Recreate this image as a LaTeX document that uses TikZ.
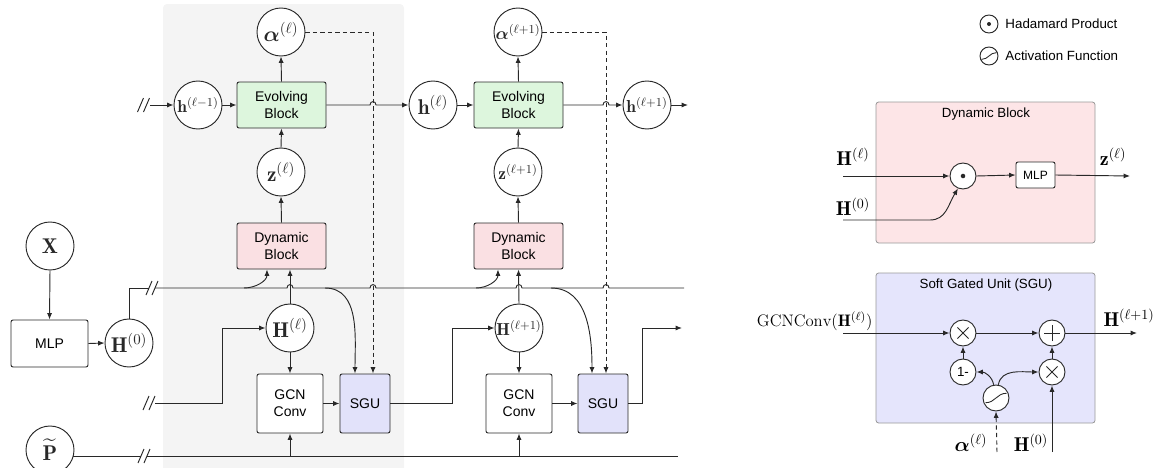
\RequirePackage{fix-cm}
\documentclass[tikz,border=0pt]{standalone}
\usepackage{amsmath,bm}
\usepackage{fontspec}
\newfontfamily\helv{Liberation Sans}
\usetikzlibrary{arrows.meta}

\definecolor{bggray}{RGB}{244,244,244}
\definecolor{evofill}{RGB}{221,246,221}
\definecolor{dynfill}{RGB}{250,224,227}
\definecolor{sgufill}{RGB}{226,226,250}
\definecolor{panelpink}{RGB}{253,229,231}
\definecolor{panelblue}{RGB}{229,229,252}
\definecolor{ink}{RGB}{40,40,40}

\newcommand\mfont{\fontsize{16}{18}\selectfont}
\newcommand\msmall{\fontsize{13}{15}\selectfont}
\newcommand\mlab{\fontsize{15}{17}\selectfont}
\newcommand\mgcn{\fontsize{12.5}{14}\selectfont}
\newcommand\bfont{\helv\fontsize{10.5}{12.75}\selectfont}
\newcommand\lfont{\helv\fontsize{10}{12}\selectfont}
\newcommand\sfont{\helv\fontsize{9}{10}\selectfont}

% two slanted strokes marking a broken line
\newcommand\brk[2]{\draw (#1-6,#2+7) -- (#1,#2-7); \draw (#1,#2+7) -- (#1+6,#2-7);}
% sigmoid glyph centred at (#1,#2), half width #3
\newcommand\sgm[3]{\draw[line width=0.65pt] (#1-#3,#2+0.45*#3) .. controls (#1-0.05*#3,#2+0.45*#3) and (#1+0.05*#3,#2-0.45*#3) .. (#1+#3,#2-0.45*#3);}

\begin{document}
\begin{tikzpicture}[x=0.75pt,y=-0.75pt,line width=0.7pt,color=ink,
  >={Latex[length=4.8pt,width=3.8pt]},
  circ/.style={circle,draw,fill=white,minimum size=36pt,inner sep=0pt,font=\mfont},
  box/.style={rectangle,rounded corners=1.5pt,draw,align=center,font=\bfont,text=black},
  evo/.style={box,fill=evofill,minimum width=66.75pt,minimum height=34.5pt},
  dyn/.style={box,fill=dynfill,minimum width=66.75pt,minimum height=34.5pt},
  gcn/.style={box,fill=white,minimum width=49.5pt,minimum height=44.25pt},
  sgu/.style={box,fill=sgufill,minimum width=37.5pt,minimum height=44.25pt},
  mlpbox/.style={box,fill=white,minimum width=57.75pt,minimum height=35.25pt},
  op/.style={circle,draw,fill=white,minimum size=19.5pt,inner sep=0pt,font=\sfont,text=black},
  lab/.style={inner sep=0pt,font=\mlab,text=black},
  panel/.style={rectangle,rounded corners=2pt,draw=black!40,line width=0.6pt},
  dsh/.style={dashed,dash pattern=on 3.2pt off 2.4pt},
]
\useasboundingbox (0,0) rectangle (1158,468);

% shaded layer
\fill[bggray,rounded corners=3pt] (163,4) rectangle (404,475);

% ---------- layer l ----------
\node[circ] (alphaL) at (281,32) {$\bm{\alpha}^{(\ell)}$};
\node[evo] (evoL) at (281.5,105) {Evolving\\Block};
\node[circ] (hLm1) at (198,105) {\msmall$\mathbf{h}^{(\ell-1)}$};
\node[circ] (zL) at (281,172) {$\mathbf{z}^{(\ell)}$};
\node[dyn] (dynL) at (281.5,246) {Dynamic\\Block};
\node[circ] (HL) at (290,328) {$\mathbf{H}^{(\ell)}$};
\node[gcn] (gcnL) at (290,403.5) {GCN\\Conv};
\node[sgu] (sguL) at (365,403.5) {SGU};

% ---------- layer l+1 ----------
\node[circ] (hL) at (433,105) {$\mathbf{h}^{(\ell)}$};
\node[circ] (alphaR) at (518,32) {\msmall$\bm{\alpha}^{(\ell+1)}$};
\node[evo] (evoR) at (518.5,105) {Evolving\\Block};
\node[circ] (zR) at (518,172) {\msmall$\mathbf{z}^{(\ell+1)}$};
\node[circ] (hLp1) at (647,105) {\msmall$\mathbf{h}^{(\ell+1)}$};
\node[dyn] (dynR) at (518.5,246) {Dynamic\\Block};
\node[circ] (HLp1) at (519,328) {\msmall$\mathbf{H}^{(\ell+1)}$};
\node[gcn] (gcnR) at (519,403.5) {GCN\\Conv};
\node[sgu] (sguR) at (603,403.5) {SGU};

% ---------- inputs ----------
\node[circ] (X) at (50,246) {$\mathbf{X}$};
\node[mlpbox] (mlp) at (49.5,343.5) {MLP};
\node[circ] (H0) at (129,343) {$\mathbf{H}^{(0)}$};
\node[circ] (P) at (50,450) {$\widetilde{\mathbf{P}}$};
\coordinate (hout) at (688,105);
\coordinate (Hout) at (682,328);

% evolving chain
\brk{143.5}{105}
\draw[->] (150,105) -- (hLm1.west);
\draw[->] (hLm1.east) -- (evoL.west);
\draw[->] (evoL.north) -- (alphaL.south);
\draw[->] (zL.north) -- (evoL.south);
\draw[->] (dynL.north) -- (zL.south);
\draw[->] (evoL.east) -- (370,105) .. controls (370,100.5) and (376,100.5) .. (376,105) -- (hL.west);
\draw[->] (hL.east) -- (evoR.west);
\draw[->] (evoR.north) -- (alphaR.south);
\draw[->] (zR.north) -- (evoR.south);
\draw[->] (dynR.north) -- (zR.south);
\draw[->] (evoR.east) -- (603,105) .. controls (603,100.5) and (609,100.5) .. (609,105) -- (hLp1.west);
\draw[->] (hLp1.east) -- (hout);

% gate signals
\draw[dsh,->] (alphaL.east) -- (373,32) -- ([xshift=6pt]sguL.north);
\draw[dsh,->] (alphaR.east) -- (606,32) -- ([xshift=2.25pt]sguR.north);

% initial features
\draw[->] (X.south) -- (mlp.north);
\draw[->] (mlp.east) -- (H0.west);
\draw (H0.north) -- (129,288) -- (149,288);
\brk{152}{288}
\draw (155,288) -- (287,288) .. controls (287,283.5) and (293,283.5) .. (293,288)
  -- (370,288) .. controls (370,283.5) and (376,283.5) .. (376,288)
  -- (516,288) .. controls (516,283.5) and (522,283.5) .. (522,288)
  -- (603,288) .. controls (603,283.5) and (609,283.5) .. (609,288) -- (684,288);
\draw[->] (244,288) to[out=0,in=-90] ([xshift=-10.9pt]dynL.south);
\draw[->] (325,288) to[out=0,in=90] ([xshift=-7.5pt]sguL.north);
\draw[->] (476,288) to[out=0,in=-90] ([xshift=-15.4pt]dynR.south);
\draw[->] (551,288) to[out=0,in=90] ([xshift=-8.25pt]sguR.north);

% layer l graph convolution
\brk{149}{403}
\draw[->] (155,403) -- (222,403) -- (222,328) -- (HL.west);
\draw[->] (HL.north) -- (dynL.south -| HL.north);
\draw[->] (HL.south) -- (gcnL.north);
\draw[->] (gcnL.east) -- (sguL.west);
\draw[->] (sguL.east) -- (452,403.5) -- (452,328) -- (HLp1.west);

% layer l+1 graph convolution
\draw[->] (HLp1.north) -- (dynR.south);
\draw[->] (HLp1.south) -- (gcnR.north);
\draw[->] (gcnR.east) -- (sguR.west);
\draw[->] (sguR.east) -- (642,403.5) -- (642,328) -- (Hout);

% propagation matrix
\draw (73,456) -- (141,456);
\brk{144}{456}
\draw (147,456) -- (678,456);
\draw[->] (290,456) -- (gcnL.south);
\draw[->] (519,456) -- (gcnR.south);

% ---------- legend ----------
\node[circle,draw,minimum size=13.5pt,inner sep=0pt] (had) at (989,24) {};
\fill (had.center) circle (1.5pt);
\node[anchor=west,inner sep=0pt,font=\lfont,text=black] (hadtxt) at (1005,24) {Hadamard Product};
\node[circle,draw,minimum size=13.5pt,inner sep=0pt] (act) at (989,56) {};
\sgm{989}{56}{7.5}
\node[anchor=west,inner sep=0pt,font=\lfont,text=black] (acttxt) at (1005,56) {Activation Function};

% ---------- dynamic block detail ----------
\node[panel,fill=panelpink,minimum width=164.25pt,minimum height=105.75pt] (dpanel) at (985.5,172.5) {};
\node[font=\lfont,text=black,inner sep=0pt] (dtitle) at (986,114) {Dynamic Block};
\node[op] (had2) at (963,176) {};
\fill (had2.center) circle (1.7pt);
\node[box,fill=white,font=\sfont,minimum width=29.25pt,minimum height=19.5pt,rounded corners=1.5pt] (mlp2) at (1035.5,175) {MLP};
\coordinate (dinA) at (843,176);
\coordinate (dinB) at (843,220);
\coordinate (dout) at (1130,176);
\node[lab] (dlabA) at (853,157) {$\mathbf{H}^{(\ell)}$};
\node[lab] (dlabB) at (853,207) {$\mathbf{H}^{(0)}$};
\node[lab] (dlabZ) at (1113,157) {$\mathbf{z}^{(\ell)}$};
\draw[->] (dinA) -- (had2.west);
\draw[->] (dinB) -- (930,220) .. controls (946,220) and (948,205) .. (had2.-112);
\draw[->] (had2.east) -- (mlp2.west);
\draw[->] (mlp2.east) -- (dout);

% ---------- soft gated unit detail ----------
\node[panel,fill=panelblue,minimum width=164.25pt,minimum height=112.5pt] (spanel) at (985.5,348) {};
\node[font=\lfont,text=black,inner sep=0pt] (stitle) at (986,285) {Soft Gated Unit (SGU)};
\node[op] (mulA) at (963,333) {};
\node[op] (plus) at (1052,333) {};
\node[op] (mulB) at (1052,372) {};
\node[op,font=\helv\fontsize{10}{11}\selectfont] (omin) at (963,372) {1-};
\node[op] (sig) at (996,398) {};
\foreach \n in {mulA,mulB}{
  \draw[line width=0.55pt] ([shift={(-4.2pt,-4.2pt)}]\n.center) -- ([shift={(4.2pt,4.2pt)}]\n.center);
  \draw[line width=0.55pt] ([shift={(-4.2pt,4.2pt)}]\n.center) -- ([shift={(4.2pt,-4.2pt)}]\n.center);
}
\draw[line width=0.6pt] ([xshift=-6pt]plus.center) -- ([xshift=6pt]plus.center);
\draw[line width=0.6pt] ([yshift=-6pt]plus.center) -- ([yshift=6pt]plus.center);
\sgm{996}{398}{10.5}
\coordinate (sin) at (843,333);
\coordinate (sout) at (1137,333);
\coordinate (sinA) at (997,452);
\coordinate (sinB) at (1052,452);
\node[lab,anchor=east,font=\mgcn] (slabG) at (873,321) {$\mathrm{GCNConv}(\mathbf{H}^{(\ell)})$};
\node[lab] (slabH) at (1129,318) {$\mathbf{H}^{(\ell+1)}$};
\node[lab] (slabA) at (971,443) {$\bm{\alpha}^{(\ell)}$};
\node[lab] (slabB) at (1031,443) {$\mathbf{H}^{(0)}$};
\draw[->] (sin) -- (mulA.west);
\draw[->] (mulA.east) -- (plus.west);
\draw[->] (plus.east) -- (sout);
\draw[->] (omin.north) -- (mulA.south);
\draw[->] (mulB.north) -- (plus.south);
\draw[->] (sig.100) to[out=100,in=0] (omin.east);
\draw[->] (sig.80) to[out=80,in=180] (mulB.west);
\draw[dsh,->] (sinA) -- (sig.south);
\draw[->] (sinB) -- (mulB.south);
\end{tikzpicture}
\end{document}
